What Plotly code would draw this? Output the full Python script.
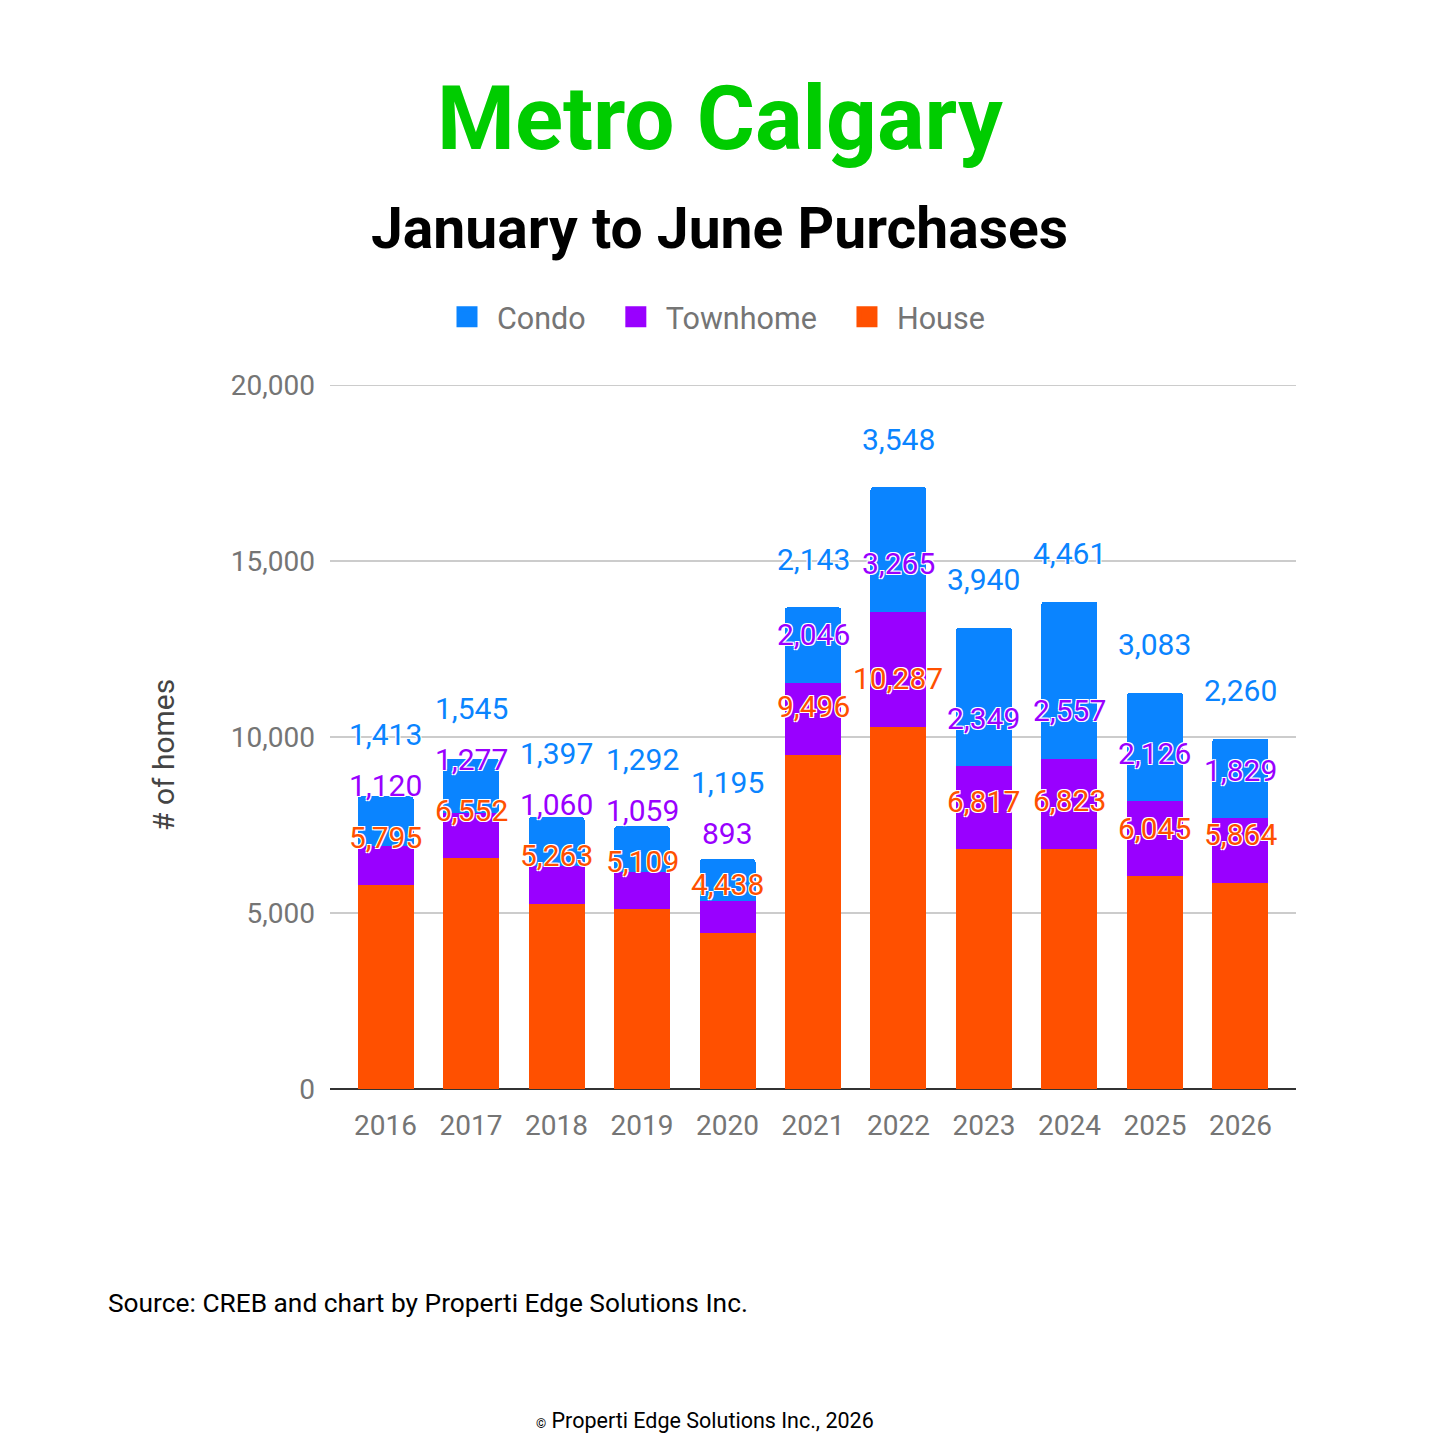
import plotly.graph_objects as go

years = ["2016", "2017", "2018", "2019", "2020", "2021", "2022", "2023", "2024", "2025", "2026"]
house = [5795, 6552, 5263, 5109, 4438, 9496, 10287, 6817, 6823, 6045, 5864]
townhome = [1120, 1277, 1060, 1059, 893, 2046, 3265, 2349, 2557, 2126, 1829]
condo = [1413, 1545, 1397, 1292, 1195, 2143, 3548, 3940, 4461, 3083, 2260]

series = [("House", house, "#FF5000"),
          ("Townhome", townhome, "#9900FF"),
          ("Condo", condo, "#0A84FF")]

FONT = "Roboto"
outline = "1px 1px 0 #fff, -1px -1px 0 #fff, 1px -1px 0 #fff, -1px 1px 0 #fff"

fig = go.Figure()

# stacked bars, bottom to top
for name, vals, color in series:
    fig.add_trace(go.Bar(x=years, y=vals, name=name, marker_color=color,
                         marker_line_width=0, showlegend=False, hoverinfo="x+y+name"))

# legend-only square markers (plotly's bar legend boxes are tiny)
for name, vals, color in series:
    fig.add_trace(go.Scatter(x=[None], y=[None], mode="markers", name=name + "&nbsp;&nbsp;",
                             marker=dict(symbol="square", size=16, color=color,
                                         line=dict(color=color, width=5))))

# value labels above each segment top, pushed up when they would collide
sep = 1450
annotations = []
for i, yr in enumerate(years):
    top = 0
    prev = None
    for name, vals, color in series:
        top += vals[i]
        ly = top if prev is None else max(top, prev + sep)
        prev = ly
        annotations.append(dict(x=i, y=ly, xref="x", yref="y", text=f"{vals[i]:,}",
                                showarrow=False, yshift=48, yanchor="middle",
                                font=dict(family=FONT, size=30, color=color, shadow=outline)))

def px_x(p):
    return (p - 330) / 966

def px_y(p):
    return (1089 - p) / 704

annotations += [
    dict(text="<b>Metro Calgary</b>", x=px_x(720), y=px_y(119), xref="paper", yref="paper",
         showarrow=False, xanchor="center", yanchor="middle",
         font=dict(family=FONT, size=89, color="#00CC00")),
    dict(text="<b>January to June Purchases</b>", x=px_x(719), y=px_y(228), xref="paper", yref="paper",
         showarrow=False, xanchor="center", yanchor="middle",
         font=dict(family=FONT, size=57, color="#000000")),
    dict(text="# of homes", x=px_x(163), y=px_y(755), xref="paper", yref="paper",
         showarrow=False, textangle=-90, xanchor="center", yanchor="middle",
         font=dict(family=FONT, size=30, color="#444444")),
    dict(text="Source: CREB and chart by Properti Edge Solutions Inc.", x=px_x(106), y=px_y(1303),
         xref="paper", yref="paper", showarrow=False, xanchor="left", yanchor="middle",
         font=dict(family=FONT, size=26.3, color="#000000")),
    dict(text="<span style='font-size:13px'>©</span> Properti Edge Solutions Inc., 2026",
         x=px_x(705), y=px_y(1420), xref="paper", yref="paper", showarrow=False,
         xanchor="center", yanchor="middle",
         font=dict(family=FONT, size=21.5, color="#000000")),
]

fig.update_layout(
    width=1440, height=1440,
    margin=dict(l=330, r=144, t=385, b=351, autoexpand=False),
    paper_bgcolor="white", plot_bgcolor="white",
    barmode="stack", bargap=0.345,
    barcornerradius=3,
    annotations=annotations,
    # top gridline sits on the plot edge, where plotly drops it
    shapes=[dict(type="line", xref="paper", yref="y", x0=0, x1=1, y0=20000, y1=20000,
                 line=dict(color="#CCCCCC", width=2), layer="below")],
    legend=dict(orientation="h", x=px_x(721), xanchor="center", y=px_y(317), yanchor="middle",
                traceorder="reversed", font=dict(family=FONT, size=30.5, color="#757575"),
                itemwidth=50),
    xaxis=dict(type="category", range=[-0.65, 10.65], showgrid=False, showline=False, ticks="",
               tickfont=dict(family=FONT, size=28, color="#757575"), ticklabelstandoff=17),
    yaxis=dict(range=[0, 20000], tickvals=[0, 5000, 10000, 15000, 20000], tickformat=",",
               showgrid=True, gridcolor="#CCCCCC", gridwidth=2,
               zeroline=True, zerolinecolor="#333333", zerolinewidth=2,
               ticks="", ticklabelstandoff=14,
               tickfont=dict(family=FONT, size=28, color="#757575")),
    showlegend=True,
)

fig.write_html("out.html", config={"displayModeBar": False},
               post_script="document.body.style.margin='0px';")
